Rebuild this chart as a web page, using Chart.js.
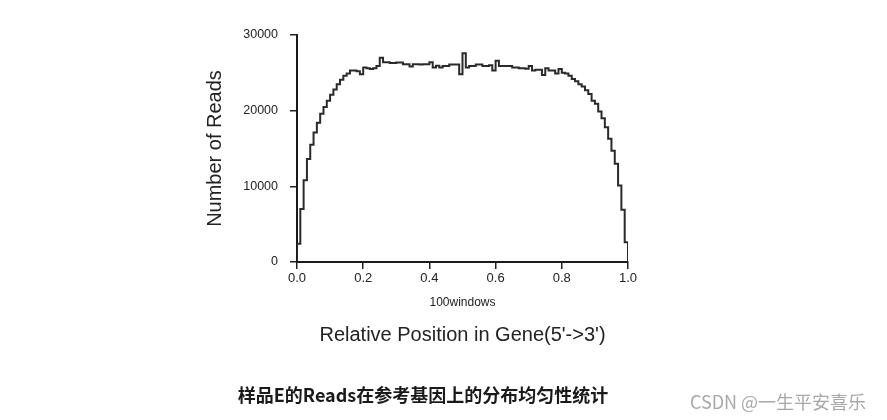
<!DOCTYPE html>
<html>
<head>
<meta charset="utf-8">
<script src="https://cdn.jsdelivr.net/npm/chart.js@4.4.1/dist/chart.umd.min.js"></script>
<style>
  html, body { margin: 0; padding: 0; background: #fff; }
  #wrap { width: 887px; height: 420px; position: relative; }
</style>
</head>
<body>
<div id="wrap"><canvas id="myChart"></canvas></div>
<script>
// reads counted in each of the 100 windows along the gene body (5' -> 3')
const readsPerWindow = [
  2400, 7000, 10800, 13600, 15500, 17100, 18400, 19600, 20500, 21300,
  22100, 22800, 23500, 24100, 24600, 24900, 25300, 25300, 25200, 24800,
  25700, 25600, 25500, 25600, 25900, 27000, 26400, 26400, 26300, 26300,
  26350, 26350, 26150, 26150, 25850, 26150, 26150, 26100, 26150, 26150,
  26400, 25700, 25950, 25700, 25900, 25900, 26100, 26100, 26100, 24800,
  27600, 25700, 25900, 25900, 26100, 26100, 25900, 25900, 26000, 25300,
  26600, 25900, 25900, 25900, 25900, 25700, 25700, 25600, 25600, 25550,
  25900, 25300, 25400, 25400, 24700, 25600, 25300, 25300, 24900, 25500,
  25000, 24900, 24600, 24200, 23900, 23500, 23200, 22700, 22200, 21300,
  20900, 19900, 19000, 17800, 16300, 14700, 13000, 10100, 6900, 2600
];
const xTicks = [0, 0.2, 0.4, 0.6, 0.8, 1.0];
const xTickLabels = ["0.0", "0.2", "0.4", "0.6", "0.8", "1.0"];
const yTicks = [0, 10000, 20000, 30000];
const yTickLabels = ["0", "10000", "20000", "30000"];

const latin = "'Liberation Sans', Arial, sans-serif";
const cjk = "'Noto Sans CJK SC', 'Liberation Sans', sans-serif";

function generateChart() {
  const n = readsPerWindow.length;
  const points = [{ x: 0, y: 0 }]
    .concat(readsPerWindow.map((v, i) => ({ x: i / n, y: v })))
    .concat([{ x: 1, y: 0 }]);

  // extra texts: the window note under the ticks, the caption and the watermark
  const extraText = {
    id: "extraText",
    afterDraw(chart) {
      const ctx = chart.ctx;
      const area = chart.chartArea;
      const cx = (area.left + area.right) / 2;
      ctx.save();
      ctx.textAlign = "center";
      ctx.textBaseline = "middle";
      ctx.fillStyle = "#222";
      ctx.font = "12px " + latin;
      ctx.fillText("100windows", cx, 303);
      ctx.font = "bold 18px " + cjk;
      ctx.fillStyle = "#1a1a1a";
      ctx.fillText("样品E的Reads在参考基因上的分布均匀性统计", 423, 395);
      ctx.font = "18px " + cjk;
      ctx.fillStyle = "#a8a8a8";
      ctx.fillText("CSDN @一生平安喜乐", 778, 402);
      ctx.restore();
    },
  };

  const options = {
    responsive: true,
    maintainAspectRatio: false,
    animation: false,
    layout: { padding: { top: 35, right: 259, left: 0, bottom: 0 } },
    scales: {
      x: {
        type: "linear",
        min: 0,
        max: 1,
        afterFit: (s) => { s.height = 158; },
        afterBuildTicks: (s) => { s.ticks = xTicks.map((v) => ({ value: v })); },
        ticks: {
          color: "#222",
          padding: 2,
          maxRotation: 0,
          font: { family: latin, size: 13 },
          callback: (v) => xTickLabels[xTicks.indexOf(v)],
        },
        grid: { drawOnChartArea: false, drawTicks: true, tickLength: 7, color: "#222", lineWidth: 1.5 },
        border: { display: true, color: "#1a1a1a", width: 2 },
        title: {
          display: true,
          text: "Relative Position in Gene(5'->3')",
          color: "#222",
          font: { family: latin, size: 20 },
          padding: { top: 0, bottom: 73 },
        },
      },
      y: {
        min: 0,
        max: 30000,
        afterFit: (s) => { s.width = 297; },
        afterBuildTicks: (s) => { s.ticks = yTicks.map((v) => ({ value: v })); },
        ticks: {
          color: "#222",
          padding: 12,
          font: { family: latin, size: 12.5 },
          callback: (v) => yTickLabels[yTicks.indexOf(v)],
        },
        grid: { drawOnChartArea: false, drawTicks: true, tickLength: 7, color: "#222", lineWidth: 1.5 },
        border: { display: true, color: "#1a1a1a", width: 2 },
        title: {
          display: true,
          text: "Number of Reads",
          color: "#222",
          font: { family: latin, size: 20 },
          padding: { top: 203, bottom: 0 },
        },
      },
    },
    plugins: {
      legend: { display: false },
      tooltip: { enabled: false },
    },
  };

  const config = {
    type: "line",
    data: {
      datasets: [
        {
          data: points,
          stepped: "before",
          borderColor: "#2a2a2a",
          borderWidth: 2,
          pointRadius: 0,
          fill: false,
        },
      ],
    },
    options,
    plugins: [extraText],
  };
  new Chart(document.getElementById("myChart"), config);
}
generateChart();
</script>
</body>
</html>
